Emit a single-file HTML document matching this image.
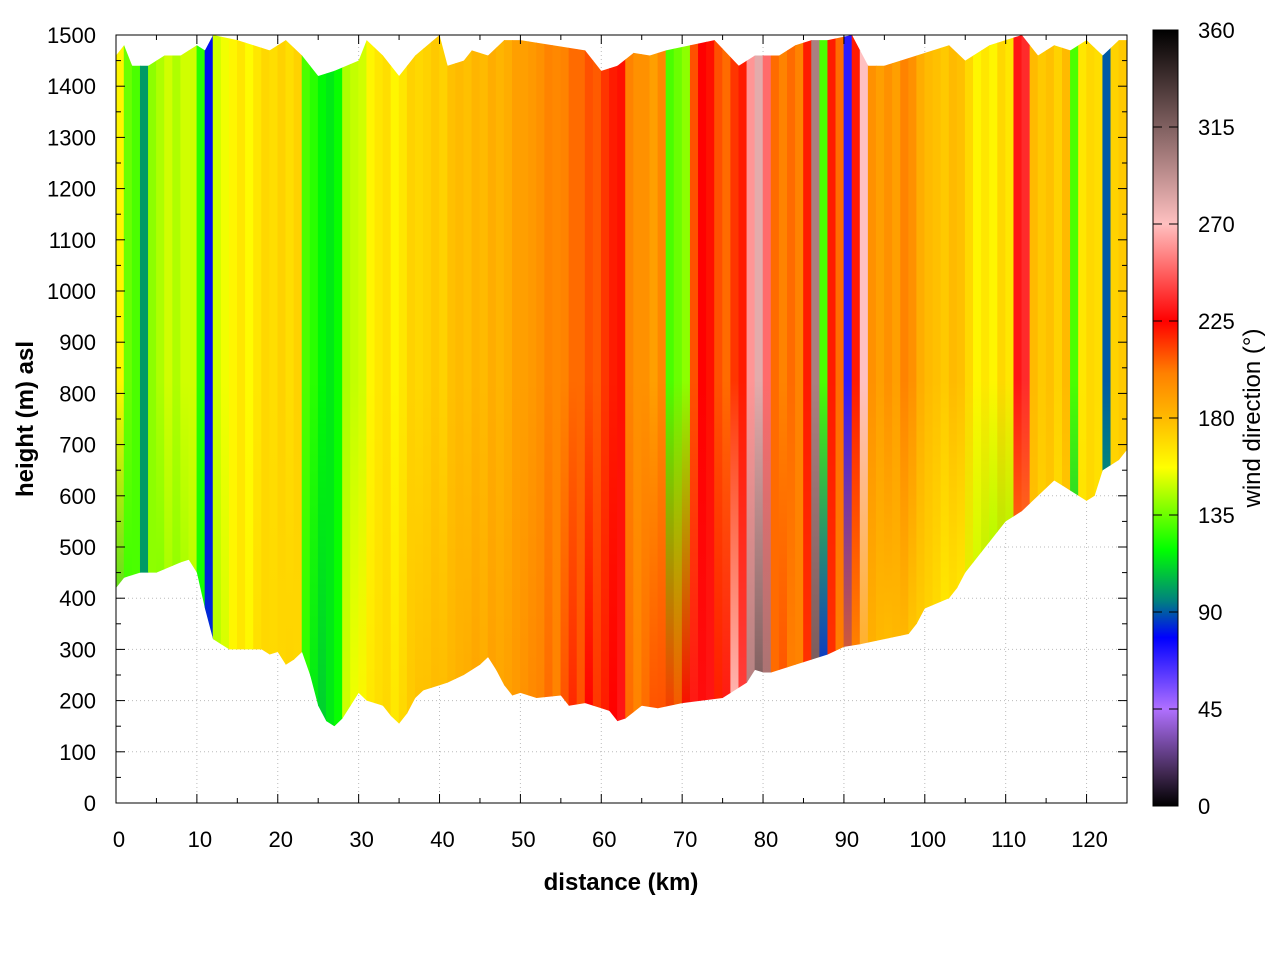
<!DOCTYPE html>
<html><head><meta charset="utf-8">
<style>
body{margin:0;background:#fff;font-family:"Liberation Sans",sans-serif;}
svg text{font-family:"Liberation Sans",sans-serif;}
</style></head>
<body>
<svg id="chart" width="1280" height="960" viewBox="0 0 1280 960" xmlns="http://www.w3.org/2000/svg">
<defs>
<clipPath id="terrainClip"><polygon id="clipPoly" points=""/></clipPath>
<linearGradient id="cbGrad" x1="0" y1="1" x2="0" y2="0">
<stop offset="0" stop-color="#000000"/>
<stop offset="0.042" stop-color="#402850"/>
<stop offset="0.125" stop-color="#b070ff"/>
<stop offset="0.217" stop-color="#0000ff"/>
<stop offset="0.264" stop-color="#008080"/>
<stop offset="0.33" stop-color="#00ff00"/>
<stop offset="0.436" stop-color="#ffff00"/>
<stop offset="0.494" stop-color="#ffc000"/>
<stop offset="0.558" stop-color="#ff8000"/>
<stop offset="0.625" stop-color="#ff0000"/>
<stop offset="0.75" stop-color="#ffc0c0"/>
<stop offset="0.875" stop-color="#806060"/>
<stop offset="1" stop-color="#000000"/>
</linearGradient>
</defs>
<g id="grid"></g>
<g id="heat" clip-path="url(#terrainClip)"></g>
<rect x="116" y="35" width="1011" height="768" fill="none" stroke="#000" stroke-width="1"/>
<g id="axes"></g>
<text x="621" y="890" font-size="24" font-weight="bold" text-anchor="middle">distance (km)</text>
<text transform="translate(33,419) rotate(-90)" font-size="24" font-weight="bold" text-anchor="middle">height (m) asl</text>
<rect x="1153" y="30" width="25" height="776" fill="url(#cbGrad)" stroke="#000"/>
<g id="cbaxis"></g>
<text transform="translate(1260,418) rotate(-90)" font-size="24" text-anchor="middle">wind direction (°)</text>
</svg>
<script>
const distKm=[0,1,2,3,4,5,6,7,8,9,10,11,12,13,14,15,16,17,18,19,20,21,22,23,24,25,26,27,28,29,30,31,32,33,34,35,36,37,38,39,40,41,42,43,44,45,46,47,48,49,50,51,52,53,54,55,56,57,58,59,60,61,62,63,64,65,66,67,68,69,70,71,72,73,74,75,76,77,78,79,80,81,82,83,84,85,86,87,88,89,90,91,92,93,94,95,96,97,98,99,100,101,102,103,104,105,106,107,108,109,110,111,112,113,114,115,116,117,118,119,120,121,122,123,124];
const dirUpper=[160,135,130,100,140,145,150,145,150,150,125,80,150,155,160,165,158,165,170,168,172,168,172,130,125,118,115,120,145,148,150,160,165,168,160,165,172,170,172,175,172,178,180,178,182,180,185,182,185,190,190,192,195,200,198,200,205,205,210,208,215,220,222,200,195,195,190,198,130,135,140,210,225,222,210,205,215,220,260,280,250,205,200,205,200,220,300,130,220,205,70,220,270,195,190,195,190,200,195,185,180,178,175,180,178,170,160,165,160,170,165,230,235,180,175,178,172,180,130,165,170,168,90,172,175];
const dirLower=[110,125,130,100,140,135,140,138,140,145,120,85,145,150,160,165,160,168,170,170,170,172,170,125,115,110,115,120,150,155,160,165,168,170,165,170,175,178,178,180,180,182,184,186,188,186,190,188,190,192,195,198,200,205,200,210,218,210,225,215,220,225,230,205,200,205,210,210,215,210,225,230,228,230,220,230,270,240,300,320,305,205,210,200,200,215,320,80,215,200,205,190,185,180,178,175,178,175,170,170,168,165,160,160,158,150,145,140,135,135,135,175,180,175,170,172,165,170,100,168,170,165,120,170,170];
const terrainKm=[0,1,3,5,8,9,10,11,12,14,18,19,20,21,22,23,24,25,26,27,28,29,30,31,33,34,35,36,37,38,40,41,43,45,46,47,48,49,50,52,55,56,58,60,61,62,63,65,67,70,75,78,79,80,81,84,88,90,92,95,98,99,100,103,104,105,107,110,112,114,116,117,118,120,121,122,124,125];
const terrainM=[420,440,450,450,470,475,450,380,320,300,300,290,295,270,280,295,250,190,160,150,165,190,215,200,190,170,155,175,205,220,230,235,250,270,285,260,230,210,215,205,210,190,195,185,180,160,165,190,185,195,205,235,260,255,255,270,290,305,310,320,330,350,380,400,420,450,490,550,570,600,630,620,610,590,600,650,670,690];
const topKm=[0,1,2,4,6,8,10,11,12,15,17,19,21,23,25,27,30,31,33,35,37,40,41,43,44,46,48,50,54,58,60,62,64,66,68,71,74,77,79,82,84,86,88,91,93,95,97,99,101,103,105,108,110,112,114,116,118,120,122,124,125];
const topM=[1460,1480,1440,1440,1460,1460,1480,1470,1500,1490,1480,1470,1490,1460,1420,1430,1450,1490,1460,1420,1460,1500,1440,1450,1470,1460,1490,1490,1480,1470,1430,1440,1465,1460,1470,1480,1490,1440,1460,1460,1480,1490,1490,1500,1440,1440,1450,1460,1470,1480,1450,1480,1490,1500,1460,1480,1470,1490,1460,1490,1490];
const xTicks=[0,10,20,30,40,50,60,70,80,90,100,110,120];
const yTicks=[0,100,200,300,400,500,600,700,800,900,1000,1100,1200,1300,1400,1500];
const cbTicks=[0,45,90,135,180,225,270,315,360];

const NS="http://www.w3.org/2000/svg";
const X=km=>116+km*(1011/125);
const Y=m=>803-m*(768/1500);
const CY=d=>806-d*(776/360);
const stops=[[0,[0,0,0]],[15,[64,40,80]],[45,[176,112,255]],[78,[0,0,255]],[95,[0,128,128]],[119,[0,255,0]],[157,[255,255,0]],[178,[255,192,0]],[201,[255,128,0]],[225,[255,0,0]],[270,[255,192,192]],[315,[128,96,96]],[360,[0,0,0]]];
function col(d){for(let i=1;i<stops.length;i++){if(d<=stops[i][0]){const a=stops[i-1],b=stops[i];const t=(d-a[0])/(b[0]-a[0]);const c=a[1].map((v,k)=>Math.round(v+(b[1][k]-v)*t));return `rgb(${c[0]},${c[1]},${c[2]})`;}}return "#000";}
function mk(tag,attrs,parent){const e=document.createElementNS(NS,tag);for(const k in attrs)e.setAttribute(k,attrs[k]);parent.appendChild(e);return e;}

let pts=[];
topKm.forEach((k,i)=>pts.push(X(k)+","+Y(topM[i])));
for(let i=terrainKm.length-1;i>=0;i--)pts.push(X(terrainKm[i])+","+Y(terrainM[i]));
document.getElementById('clipPoly').setAttribute('points',pts.join(' '));

const grid=document.getElementById('grid');
xTicks.forEach(v=>{if(v>0){mk('line',{x1:X(v),x2:X(v),y1:35,y2:803,stroke:'#bbb','stroke-dasharray':'1,3'},grid);}});
yTicks.forEach(v=>{if(v>0&&v<1500){mk('line',{x1:116,x2:1127,y1:Y(v),y2:Y(v),stroke:'#bbb','stroke-dasharray':'1,3'},grid);}});

const heat=document.getElementById('heat');
const w=1011/125;
distKm.forEach((k,i)=>{
  const g=mk('linearGradient',{id:'g'+i,x1:0,y1:0,x2:0,y2:1},document.querySelector('defs'));
  mk('stop',{offset:'0','stop-color':col(dirUpper[i])},g);
  mk('stop',{offset:'0.5','stop-color':col(dirUpper[i])},g);
  mk('stop',{offset:'1','stop-color':col(dirLower[i])},g);
  const r=mk('rect',{x:X(k)-0.3,y:Y(1500),width:w+0.6,height:Y(150)-Y(1500),fill:'url(#g'+i+')'},heat);
  
  
});

const ax=document.getElementById('axes');
for(let v=0;v<=125;v+=5){const len=(v%10===0)?9:5;
  mk('line',{x1:X(v),x2:X(v),y1:803,y2:803-len,stroke:'#000'},ax);
  mk('line',{x1:X(v),x2:X(v),y1:35,y2:35+len,stroke:'#000'},ax);}
for(let v=0;v<=1500;v+=50){const len=(v%100===0)?9:5;
  mk('line',{x1:116,x2:116+len,y1:Y(v),y2:Y(v),stroke:'#000'},ax);
  mk('line',{x1:1127,x2:1127-len,y1:Y(v),y2:Y(v),stroke:'#000'},ax);}
xTicks.forEach(v=>{const t=mk('text',{x:X(v)+3,y:847,'font-size':22,'text-anchor':'middle'},ax);t.textContent=v;
  
  });
yTicks.forEach(v=>{const t=mk('text',{x:96,y:Y(v)+8,'font-size':22,'text-anchor':'end'},ax);t.textContent=v;
  
  });
const cb=document.getElementById('cbaxis');
cbTicks.forEach(v=>{
  mk('line',{x1:1153,x2:1162,y1:CY(v),y2:CY(v),stroke:'#000'},cb);
  mk('line',{x1:1178,x2:1169,y1:CY(v),y2:CY(v),stroke:'#000'},cb);
  const t=mk('text',{x:1198,y:CY(v)+8,'font-size':22},cb);t.textContent=v;
  
  });
</script>
</body></html>
